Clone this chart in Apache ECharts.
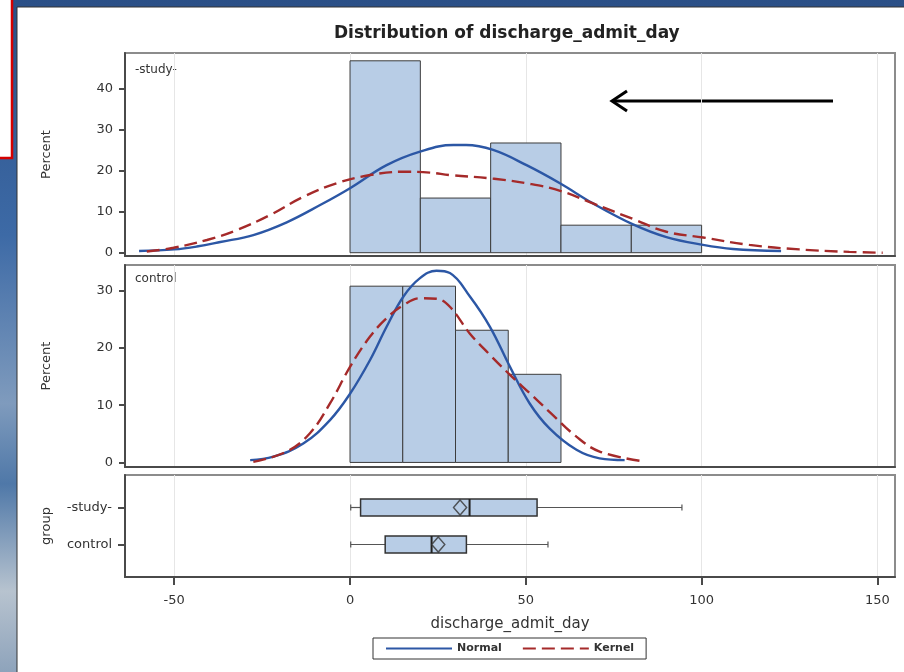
<!DOCTYPE html>
<html style="height: 100%">
<head>
<meta charset="utf-8">
</head>
<body style="height: 100%; margin: 0">
<div id="container" style="width: 904px; height: 672px"></div>
<script src="https://cdn.jsdelivr.net/npm/echarts@6/dist/echarts.min.js"></script>
<script>
var dom = document.getElementById('container');
var myChart = echarts.init(dom);

// histogram bins: [from, to, percent]
var studyBins = [[0, 20, 46.7], [20, 40, 13.3], [40, 60, 26.7], [60, 80, 6.7], [80, 100, 6.7]];
var controlBins = [[0, 15, 30.8], [15, 30, 30.8], [30, 45, 23.1], [45, 60, 15.4]];

// fitted curves: [x, percent]
var studyNormal = [[-60, 0.4], [-50, 0.8], [-43.6, 1.5], [-36.9, 2.6], [-27.5, 4.3], [-18, 7.4],
    [-8.5, 11.6], [0, 15.7], [10.4, 21.3], [19.9, 24.6], [29.4, 26.2], [33, 26.2], [40.7, 25],
    [50.2, 21.3], [59.7, 16.9], [69.1, 12], [80.5, 6.9], [90, 3.8], [100.4, 1.9], [108.9, 0.9], [122.6, 0.4]];
var studyKernel = [[-57.8, 0.3], [-50.2, 1.2], [-40.7, 3.1], [-32.2, 5.5], [-22.7, 9.2], [-13.3, 13.6],
    [-3.8, 16.9], [5.7, 18.9], [15.1, 19.7], [22.7, 19.5], [28.4, 18.9], [41, 18], [51.5, 16.7],
    [60, 15], [69.1, 12], [80.5, 8.2], [90, 5.1], [100.4, 3.7], [113.6, 1.9], [127.8, 0.8], [142, 0.2], [151.5, 0]];
var controlNormal = [[-28.4, 0.4], [-21.8, 1], [-13.3, 3.3], [-5.7, 7.4], [0, 12], [5.7, 17.9],
    [10.4, 23.7], [15.2, 29], [19.9, 32.2], [24.6, 33.5], [28.4, 33.1], [34.1, 29], [39.8, 23.7],
    [45.5, 16.7], [51.1, 10.3], [56.8, 5.9], [64.4, 2.2], [71, 0.7], [78.1, 0.4]];
var controlKernel = [[-27.5, 0.1], [-18, 1.9], [-11.4, 5.1], [-5.7, 10.3], [0, 16.7], [5.7, 22],
    [10.4, 25.2], [15.2, 27.5], [19.9, 28.7], [24.6, 28.6], [28.4, 27.2], [34.1, 22.5], [39.8, 18.8],
    [45.5, 15.3], [51.1, 12.1], [56.8, 8.8], [64.4, 4.5], [71, 1.9], [83.3, 0.2]];

var groups = ['-study-', 'control'];
// min, q1, median, q3, max
var boxStats = [[0.2, 3, 34, 53.2, 94.4], [0.2, 10, 23.2, 33.1, 56.3]];
var means = [31.3, 25.1];

var xTicks = [-50, 0, 50, 100, 150];
var studyTicks = [0, 10, 20, 30, 40];
var controlTicks = [0, 10, 20, 30];

var font = 'DejaVu Sans';
var barFill = '#b8cde6';
var blue = '#2c57a5';
var red = '#a52a2a';
var axisDark = '#4a4a4a';

function renderBin(params, api) {
    var p0 = api.coord([api.value(0), api.value(2)]);
    var p1 = api.coord([api.value(1), 0]);
    return {
        type: 'rect',
        shape: {x: p0[0], y: p0[1], width: p1[0] - p0[0], height: p1[1] - p0[1]},
        style: {fill: barFill, stroke: '#3c3c3c', lineWidth: 1}
    };
}

function renderBox(params, api) {
    var cat = api.value(0);
    var half = api.size([0, 1])[1] * 0.23;
    var lo = api.coord([api.value(1), cat]);
    var q1 = api.coord([api.value(2), cat]);
    var md = api.coord([api.value(3), cat]);
    var q3 = api.coord([api.value(4), cat]);
    var hi = api.coord([api.value(5), cat]);
    var y = md[1];
    var wh = {stroke: '#555', lineWidth: 1.2};
    return {
        type: 'group',
        children: [
            {type: 'line', shape: {x1: lo[0], y1: y, x2: q1[0], y2: y}, style: wh},
            {type: 'line', shape: {x1: q3[0], y1: y, x2: hi[0], y2: y}, style: wh},
            {type: 'line', shape: {x1: lo[0], y1: y - 3, x2: lo[0], y2: y + 3}, style: wh},
            {type: 'line', shape: {x1: hi[0], y1: y - 3, x2: hi[0], y2: y + 3}, style: wh},
            {type: 'rect', shape: {x: q1[0], y: y - half, width: q3[0] - q1[0], height: half * 2},
                style: {fill: barFill, stroke: '#333', lineWidth: 1.5}},
            {type: 'line', shape: {x1: md[0], y1: y - half, x2: md[0], y2: y + half},
                style: {stroke: '#222', lineWidth: 2}}
        ]
    };
}

function xAxisFor(gridIndex, withLabels) {
    return {
        type: 'value', gridIndex: gridIndex, min: -64, max: 155,
        axisLine: {show: true, onZero: false, lineStyle: {color: axisDark, width: 2}},
        axisTick: {show: withLabels, customValues: xTicks, length: 8, lineStyle: {color: axisDark, width: 2}},
        axisLabel: {show: withLabels, customValues: xTicks, margin: 17, fontFamily: font, fontSize: 13, color: '#333'},
        splitLine: {show: true, lineStyle: {color: '#e6e6e6', width: 1}}
    };
}

function percentAxis(gridIndex, max, ticks) {
    return {
        type: 'value', gridIndex: gridIndex, min: -0.8, max: max,
        name: 'Percent', nameLocation: 'middle', nameGap: 72,
        nameTextStyle: {fontFamily: font, fontSize: 13, color: '#333'},
        axisLine: {show: true, onZero: false, lineStyle: {color: axisDark, width: 2}},
        axisTick: {show: true, customValues: ticks, length: 6, lineStyle: {color: axisDark, width: 2}},
        axisLabel: {customValues: ticks, margin: 12, fontFamily: font, fontSize: 13, color: '#333'},
        splitLine: {show: false}
    };
}

function curve(name, data, xi, color, dashed) {
    return {
        name: name, type: 'line', xAxisIndex: xi, yAxisIndex: xi,
        data: data, smooth: 0.4, symbol: 'none', z: 3,
        itemStyle: {color: color, opacity: 0},
        lineStyle: {color: color, width: 2.4, type: dashed ? [13, 6] : 'solid'}
    };
}

var option = {
    animation: false,
    backgroundColor: 'transparent',
    title: {
        text: 'Distribution of discharge_admit_day',
        left: 329, top: 20,
        textStyle: {fontFamily: font, fontWeight: 'bold', fontSize: 17, color: '#222'}
    },
    legend: {
        data: ['Normal', 'Kernel'],
        left: 373, top: 638,
        padding: [5, 12],
        itemWidth: 66, itemHeight: 12, itemGap: 20,
        borderColor: '#333', borderWidth: 1,
        selectedMode: false,
        itemStyle: {opacity: 0},
        textStyle: {fontFamily: font, fontWeight: 'bold', fontSize: 11, color: '#333'}
    },
    grid: [
        {left: 125, top: 53, width: 770, height: 203, show: true, borderColor: '#8c8c8c', borderWidth: 2},
        {left: 125, top: 265, width: 770, height: 202, show: true, borderColor: '#8c8c8c', borderWidth: 2},
        {left: 125, top: 475, width: 770, height: 102, show: true, borderColor: '#8c8c8c', borderWidth: 2},
        {left: 125, top: 489, width: 770, height: 74, show: false}
    ],
    xAxis: [
        xAxisFor(0, false),
        xAxisFor(1, false),
        Object.assign(xAxisFor(2, true), {
            name: 'discharge_admit_day', nameLocation: 'middle', nameGap: 40,
            nameTextStyle: {fontFamily: font, fontSize: 15, color: '#333'}
        }),
        {type: 'value', gridIndex: 3, min: -64, max: 155, show: false}
    ],
    yAxis: [
        percentAxis(0, 48.6, studyTicks),
        percentAxis(1, 34.5, controlTicks),
        {type: 'value', gridIndex: 2, min: 0, max: 1,
            axisLine: {show: true, onZero: false, lineStyle: {color: axisDark, width: 2}},
            axisTick: {show: false}, axisLabel: {show: false}, splitLine: {show: false}},
        {type: 'category', gridIndex: 3, data: groups, inverse: true,
            name: 'group', nameLocation: 'middle', nameGap: 72,
            nameTextStyle: {fontFamily: font, fontSize: 13, color: '#333'},
            axisLine: {show: false, onZero: false},
            axisTick: {show: true, alignWithLabel: true, length: 7, lineStyle: {color: axisDark, width: 2}},
            axisLabel: {margin: 13, fontFamily: font, fontSize: 13, color: '#333'}}
    ],
    series: [
        {type: 'custom', xAxisIndex: 0, yAxisIndex: 0, renderItem: renderBin,
            encode: {x: [0, 1], y: 2}, data: studyBins},
        {type: 'custom', xAxisIndex: 1, yAxisIndex: 1, renderItem: renderBin,
            encode: {x: [0, 1], y: 2}, data: controlBins},
        curve('Normal', studyNormal, 0, blue, false),
        curve('Kernel', studyKernel, 0, red, true),
        curve('Normal', controlNormal, 1, blue, false),
        curve('Kernel', controlKernel, 1, red, true),
        {type: 'custom', xAxisIndex: 3, yAxisIndex: 3, renderItem: renderBox,
            encode: {x: [1, 2, 3, 4, 5], y: 0},
            data: boxStats.map(function (s, i) { return [i].concat(s); })},
        {type: 'scatter', xAxisIndex: 3, yAxisIndex: 3, symbol: 'diamond', symbolSize: [13, 15], z: 4,
            itemStyle: {color: barFill, borderColor: '#333', borderWidth: 1.5},
            data: means.map(function (m, i) { return [m, i]; })}
    ],
    graphic: [
        {type: 'rect', z: -20, shape: {x: 0, y: 0, width: 904, height: 672},
            style: {fill: new echarts.graphic.LinearGradient(0, 0, 0, 1, [
                {offset: 0, color: '#2a4f86'}, {offset: 0.35, color: '#3d6aa6'},
                {offset: 0.6, color: '#7f9bbd'}, {offset: 0.72, color: '#4f78a8'},
                {offset: 0.88, color: '#b7c3cf'}, {offset: 1, color: '#8ea3bb'}])}},
        {type: 'rect', z: -15, shape: {x: 17, y: 7, width: 900, height: 680},
            style: {fill: '#fff', stroke: '#333', lineWidth: 1}},
        {type: 'rect', z: -15, shape: {x: -4, y: -4, width: 16, height: 162},
            style: {fill: '#fff', stroke: '#d40000', lineWidth: 2.5}},
        {type: 'text', left: 135, top: 64, style: {text: '-study-', font: '12px "DejaVu Sans"', fill: '#333'}},
        {type: 'text', left: 135, top: 273, style: {text: 'control', font: '12px "DejaVu Sans"', fill: '#333'}},
        {type: 'line', shape: {x1: 833, y1: 101, x2: 613, y2: 101}, style: {stroke: '#000', lineWidth: 3}},
        {type: 'polyline', shape: {points: [[627, 91], [612, 101], [627, 111]]},
            style: {stroke: '#000', lineWidth: 3, fill: null}}
    ]
};

myChart.setOption(option);
</script>
</body>
</html>
